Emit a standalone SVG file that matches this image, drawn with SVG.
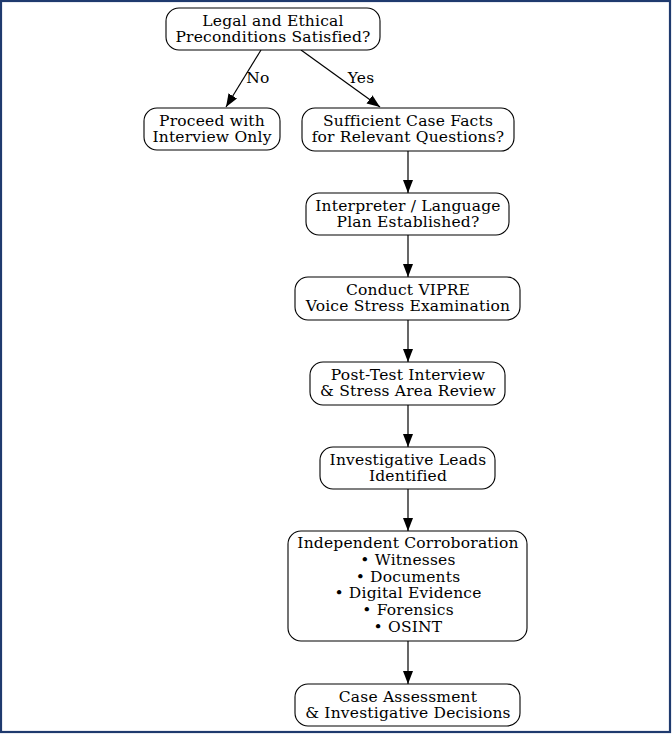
<svg xmlns="http://www.w3.org/2000/svg" width="672" height="734" viewBox="0 0 672 734">
<style>
.n{fill:#fff;stroke:#000;stroke-width:1.1}
text{font-family:"DejaVu Serif",serif;font-size:15.5px;letter-spacing:0.2px;fill:#000;text-anchor:middle}
.e{stroke:#000;stroke-width:1.2;fill:none}
</style>
<defs>
<marker id="a" markerWidth="14" markerHeight="12" refX="13" refY="5" orient="auto" markerUnits="userSpaceOnUse">
<path d="M0,0 L13,5 L0,10 Z" fill="#000"/>
</marker>
</defs>
<rect x="1" y="1" width="669" height="731" fill="#fff" stroke="#1f3a6e" stroke-width="2.2"/>
<g id="connectors">
<path class="e" d="M261,50 L226,107" marker-end="url(#a)"/>
<text x="258" y="83">No</text>
<path class="e" d="M301,50 L380,107" marker-end="url(#a)"/>
<text x="361" y="83">Yes</text>
<path class="e" d="M408,151 L408,193" marker-end="url(#a)"/>
<path class="e" d="M408,235 L408,277" marker-end="url(#a)"/>
<path class="e" d="M408,320 L408,362" marker-end="url(#a)"/>
<path class="e" d="M408,405 L408,447" marker-end="url(#a)"/>
<path class="e" d="M408,489 L408,531" marker-end="url(#a)"/>
<path class="e" d="M408,641 L408,684" marker-end="url(#a)"/>
</g>
<g id="n1"><rect class="n" x="166" y="8" width="214" height="42" rx="13"/><text x="273" y="25.5">Legal and Ethical</text><text x="273" y="42">Preconditions Satisfied?</text></g>
<g id="n2"><rect class="n" x="144" y="108" width="136" height="42" rx="13"/><text x="212" y="125.5">Proceed with</text><text x="212" y="142">Interview Only</text></g>
<g id="n3"><rect class="n" x="302" y="108" width="212" height="43" rx="13"/><text x="408" y="125.5">Sufficient Case Facts</text><text x="408" y="142">for Relevant Questions?</text></g>
<g id="n4"><rect class="n" x="306" y="193" width="203" height="42" rx="13"/><text x="408" y="210.5">Interpreter / Language</text><text x="408" y="227">Plan Established?</text></g>
<g id="n5"><rect class="n" x="295" y="277" width="225" height="43" rx="13"/><text x="408" y="294.5">Conduct VIPRE</text><text x="408" y="311">Voice Stress Examination</text></g>
<g id="n6"><rect class="n" x="310" y="362" width="195" height="43" rx="13"/><text x="408" y="379.5">Post-Test Interview</text><text x="408" y="396">&amp; Stress Area Review</text></g>
<g id="n7"><rect class="n" x="320" y="447" width="175" height="42" rx="13"/><text x="408" y="464.5">Investigative Leads</text><text x="408" y="481">Identified</text></g>
<g id="n8"><rect class="n" x="288" y="531" width="239" height="110" rx="13"/><text x="408" y="548.3">Independent Corroboration</text><text x="408" y="565">• Witnesses</text><text x="408" y="581.7">• Documents</text><text x="408" y="598.3">• Digital Evidence</text><text x="408" y="615">• Forensics</text><text x="408" y="631.7">• OSINT</text></g>
<g id="n9"><rect class="n" x="295" y="684" width="225" height="42" rx="13"/><text x="408" y="701.5">Case Assessment</text><text x="408" y="718">&amp; Investigative Decisions</text></g>
</svg>
